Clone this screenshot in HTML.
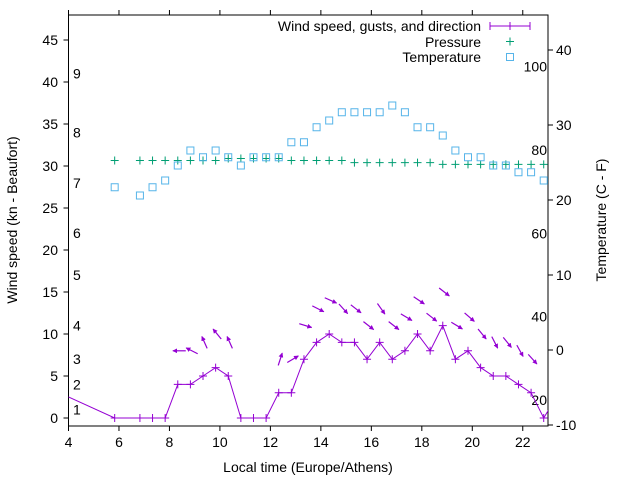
<!DOCTYPE html>
<html><head><meta charset="utf-8"><style>
html,body{margin:0;padding:0;background:#fff}
svg{display:block;font-family:"Liberation Sans",sans-serif}
</style></head><body>
<svg id="chart" width="640" height="480" viewBox="0 0 640 480" xmlns="http://www.w3.org/2000/svg">
<defs>
<clipPath id="plotclip"><rect x="68.5" y="15" width="479.5" height="411"/></clipPath>
<marker id="ah" viewBox="0 0 10 10" refX="9" refY="5" markerWidth="4" markerHeight="4" orient="auto"><path d="M0,0 L10,5 L0,10 z" fill="#9400d3"/></marker>
</defs>
<g id="axes"></g>
<g id="marks" clip-path="url(#plotclip)"></g>
<g id="legend">
<text x="481" y="31" font-size="14" text-anchor="end">Wind speed, gusts, and direction</text>
<line x1="490" y1="26" x2="530" y2="26" stroke="#9400d3" stroke-width="1"/>
<line x1="490" y1="22" x2="490" y2="30" stroke="#9400d3"/>
<line x1="530" y1="22" x2="530" y2="30" stroke="#9400d3"/>
<line x1="510" y1="22" x2="510" y2="30" stroke="#9400d3"/>
<text x="481" y="47" font-size="14" text-anchor="end">Pressure</text>
<path d="M506,41.5h8M510,37.5v8" stroke="#009e73" stroke-width="1"/>
<text x="481" y="62" font-size="14" text-anchor="end">Temperature</text>
<rect x="506.5" y="53.5" width="7" height="7" fill="none" stroke="#56b4e9"/>
</g>
<text x="308" y="472" font-size="14" text-anchor="middle">Local time (Europe/Athens)</text>
<text transform="translate(17,220) rotate(-90)" font-size="14" text-anchor="middle">Wind speed (kn - Beaufort)</text>
<text transform="translate(606,220) rotate(-90)" font-size="14" text-anchor="middle">Temperature (C - F)</text>
</svg>
<script>
const times = [5.83,6.83,7.33,7.83,8.33,8.83,9.33,9.83,10.33,10.83,11.33,11.83,12.33,12.83,13.33,13.83,14.33,14.83,15.33,15.83,16.33,16.83,17.33,17.83,18.33,18.83,19.33,19.83,20.33,20.83,21.33,21.83,22.33,22.83];
const windSpeed = [0,0,0,0,4,4,5,6,5,0,0,0,3,3,7,9,10,9,9,7,9,7,8,10,8,11,7,8,6,5,5,4,3,0];
const gusts = [null,null,null,null,8,8,9,10,9,null,null,null,7,7,11,13,14,13,13,11,13,11,12,14,12,15,11,12,10,9,9,8,7,null];
const arrowAngle = [0,0,0,0,180,-153,-114,-129,-114,0,0,0,-72,-31,17,27,24,48,38,38,55,38,31,34,38,38,31,41,51,63,51,61,48,0];
const pressure = [30.65,30.65,30.65,30.65,30.65,30.65,30.65,30.65,30.9,30.9,30.9,30.9,30.9,30.65,30.65,30.65,30.65,30.65,30.4,30.4,30.4,30.4,30.4,30.4,30.4,30.2,30.2,30.2,30.2,30.2,30.2,30.2,30.2,30.2];
const temperature = [21.7,20.6,21.7,22.6,24.6,26.6,25.7,26.6,25.7,24.6,25.7,25.7,25.7,27.7,27.7,29.7,30.6,31.7,31.7,31.7,31.7,32.6,31.7,29.7,29.7,28.6,26.6,25.7,25.7,24.6,24.6,23.7,23.7,22.6];
const windBefore = [4.0, 2.5];
const windAfter = [23.33, 2.5];
const xTicks = [4,6,8,10,12,14,16,18,20,22];
const yTicks = [0,5,10,15,20,25,30,35,40,45];
const y2Ticks = [-10,0,10,20,30,40];
const beaufortLabels = ["1","2","3","4","5","6","7","8","9"];
const beaufortKnots = [1,4,7,11,17,22,28,34,41];
const fahrenheitLabels = ["20","40","60","80","100"];

const L=68.5,R=548,T=15,B=426;
const X=t=>L+(t-4)/(23-4)*(R-L);
const Y=v=>418-v*8.4;
const Y2=c=>350-c*7.5;
const NS="http://www.w3.org/2000/svg";
function mk(tag,attrs,parent){const e=document.createElementNS(NS,tag);for(const k in attrs)e.setAttribute(k,attrs[k]);parent.appendChild(e);return e;}
const ax=document.getElementById('axes'), mg=document.getElementById('marks');

let b=mk('rect',{x:L,y:T,width:R-L,height:B-T,fill:'none',stroke:'#000','stroke-width':1},ax);


xTicks.forEach(t=>{const x=X(t);
 let l=mk('path',{d:`M${x},${B}v5M${x},${T}v-5`,stroke:'#000'},ax);
 
 
 let s=mk('text',{x:x,y:447,'font-size':14,'text-anchor':'middle'},ax);s.textContent=t;
 
 });
yTicks.forEach(v=>{const y=Y(v);
 let l=mk('path',{d:`M${L},${y}h-5`,stroke:'#000'},ax);
 
 
 let s=mk('text',{x:58,y:y+5,'font-size':14,'text-anchor':'end'},ax);s.textContent=v;
 
 });
y2Ticks.forEach(v=>{const y=Y2(v);
 let l=mk('path',{d:`M${R},${y}h5`,stroke:'#000'},ax);
 
 
 let s=mk('text',{x:556,y:y+5,'font-size':14,'text-anchor':'start'},ax);s.textContent=v;
 
 });
beaufortLabels.forEach((lab,i)=>{
 let s=mk('text',{x:73,y:Y(beaufortKnots[i])+5,'font-size':14},ax);s.textContent=lab;
 
 });
fahrenheitLabels.forEach(f=>{const c=(parseFloat(f)-32)*5/9;
 let s=mk('text',{x:547,y:Y2(c)+5,'font-size':14,'text-anchor':'end'},ax);s.textContent=f;
 
 });

// pressure
times.forEach((t,i)=>{const x=X(t),y=Y(pressure[i]);
 let p=mk('path',{d:`M${x-4},${y}h8M${x},${y-4}v8`,stroke:'#009e73'},mg);
 
 });
// temperature
times.forEach((t,i)=>{const x=X(t),y=Y2(temperature[i]);
 let r=mk('rect',{x:x-3.5,y:y-3.5,width:7,height:7,fill:'none',stroke:'#56b4e9'},mg);
 
 });
// wind line
let pts=[[X(windBefore[0]),Y(windBefore[1])]].concat(times.map((t,i)=>[X(t),Y(windSpeed[i])])).concat([[X(windAfter[0]),Y(windAfter[1])]]);
let wl=mk('polyline',{points:pts.map(p=>p.join(',')).join(' '),fill:'none',stroke:'#9400d3'},mg);


times.forEach((t,i)=>{const x=X(t),y=Y(windSpeed[i]);
 let p=mk('path',{d:`M${x-4},${y}h8M${x},${y-4}v8`,stroke:'#9400d3'},mg);
 
 });
// gust arrows
times.forEach((t,i)=>{if(gusts[i]==null)return;
 const cx=X(t)+1.5,cy=Y(gusts[i]),a=arrowAngle[i]*Math.PI/180,h=6.5;
 const dx=Math.cos(a)*h,dy=Math.sin(a)*h;
 let l=mk('line',{x1:cx-dx,y1:cy-dy,x2:cx+dx,y2:cy+dy,stroke:'#9400d3','stroke-width':1.2,'marker-end':'url(#ah)'},mg);
 
 });
</script>
</body></html>
